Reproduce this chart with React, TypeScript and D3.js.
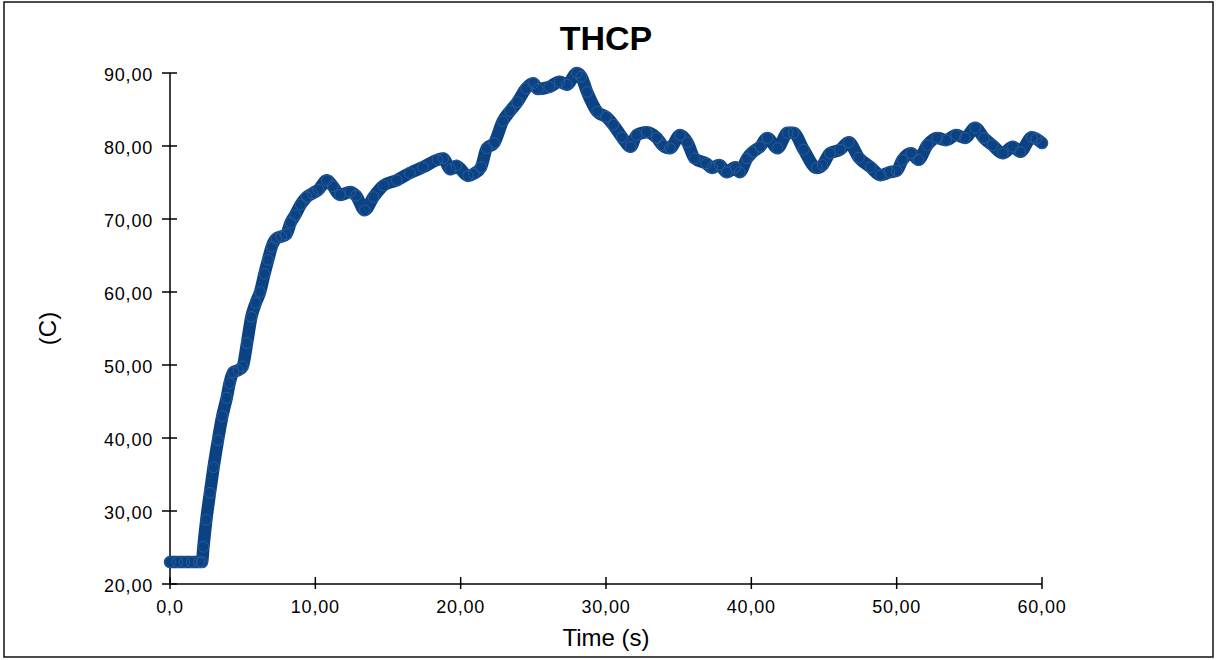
import React, { useEffect, useRef } from "react";
import * as d3 from "d3";

// time (s) and THCP temperature (C)
const times = [
  0, 0.5, 1.0, 1.5, 2.0, 2.2, 2.3, 2.5, 2.75, 3.0, 3.3, 3.6, 3.9, 4.1, 4.35, 4.7, 5.0, 5.3, 5.6, 5.9,
  6.2, 6.5, 6.75, 7.0, 7.3, 7.65, 8.0, 8.3, 8.6, 9.0, 9.4, 9.8, 10.2, 10.8, 11.2, 11.7, 12.4, 12.8,
  13.4, 14.0, 14.7, 15.6, 16.5, 17.4, 18.4, 18.8, 19.3, 19.7, 20.5, 20.9, 21.4, 21.8, 22.3, 22.9,
  23.4, 23.9, 24.5, 25.0, 25.3, 26.1, 26.8, 27.3, 28.0, 28.3, 28.7, 29.4, 30.0, 30.5, 31.1, 31.7,
  32.1, 32.8, 33.5, 33.9, 34.4, 35.1, 35.6, 36.1, 36.9, 37.3, 37.8, 38.3, 38.9, 39.2, 39.7, 40.1,
  40.6, 41.1, 41.8, 42.5, 42.9, 43.6, 44.5, 44.9, 45.4, 46.1, 46.7, 47.4, 48.2, 48.9, 49.5, 50.0,
  50.4, 51.0, 51.5, 52.1, 52.8, 53.4, 54.1, 54.7, 55.4, 56.0, 56.6, 57.3, 58.0, 58.5, 59.3, 59.6, 60.0,
];
const temps = [
  23, 23, 23, 23, 23, 23, 25.1, 28.8, 32.5, 36, 39.7, 43, 45.5, 47.5, 49, 49.3, 49.8, 53, 56.6, 58.5,
  60, 62.5, 64.4, 66.2, 67.3, 67.6, 67.9, 69.5, 70.5, 72, 73, 73.5, 74, 75.3, 74.5, 73.3, 73.7, 73.2,
  71.2, 73, 74.6, 75.3, 76.3, 77.1, 78.1, 78.3, 76.8, 77.3, 75.9, 76.2, 77.1, 79.7, 80.4, 83.4,
  84.8, 86, 87.9, 88.6, 87.8, 88.1, 88.8, 88.4, 90, 89.5, 87.4, 84.7, 84, 82.9, 81.2, 79.9,
  81.5, 81.9, 81.1, 80.1, 79.7, 81.5, 80.5, 78.3, 77.6, 77, 77.4, 76.4, 77.1, 76.4, 78.3, 79.2,
  79.9, 81.1, 79.7, 81.8, 81.8, 79.5, 77, 77.4, 79, 79.5, 80.5, 78.4, 77.1, 76, 76.4, 76.6,
  78.1, 79, 78.1, 80.1, 81.1, 80.8, 81.5, 81.1, 82.5, 81.1, 80.1, 79, 79.9, 79.2, 81.2, 81, 80.4,
];

const xTicks = [0, 10, 20, 30, 40, 50, 60];
const yTicks = [20, 30, 40, 50, 60, 70, 80, 90];

const width = 1216;
const height = 660;
const margin = { top: 73, right: 174, bottom: 76, left: 170 };
const lineColor = "#0b4283";
const font = "'Liberation Sans', Arial, sans-serif";

const fmt = (v: number) => (v === 0 ? "0,0" : v.toFixed(2).replace(".", ","));

const App = () => {
  const ref = useRef<SVGSVGElement>(null);

  useEffect(() => {
    const svg = d3.select(ref.current);
    svg.selectAll("*").remove();

    const data = times.map((t, i) => ({ t, v: temps[i] }));

    const x = d3.scaleLinear().domain([0, 60]).range([margin.left, width - margin.right]);
    const y = d3.scaleLinear().domain([20, 90]).range([height - margin.bottom, margin.top]);

    // outer frame
    svg.append("rect")
      .attr("x", 4).attr("y", 2)
      .attr("width", 1209).attr("height", 655)
      .attr("fill", "white")
      .attr("stroke", "#111")
      .attr("stroke-width", 1.5);

    // title
    svg.append("text")
      .attr("x", (x(0) + x(60)) / 2)
      .attr("y", 50)
      .attr("text-anchor", "middle")
      .style("font-family", font)
      .style("font-weight", "bold")
      .style("font-size", "34px")
      .text("THCP");

    // y axis (ticks cross the line)
    const yAxis = svg.append("g");
    yAxis.append("line")
      .attr("x1", x(0)).attr("x2", x(0))
      .attr("y1", y(90)).attr("y2", y(20))
      .attr("stroke", "black").attr("stroke-width", 1.5);
    yAxis.selectAll("line.tick")
      .data(yTicks)
      .join("line")
      .attr("class", "tick")
      .attr("x1", x(0) - 8).attr("x2", x(0) + 7)
      .attr("y1", (d) => y(d)).attr("y2", (d) => y(d))
      .attr("stroke", "black").attr("stroke-width", 1.5);
    yAxis.selectAll("text")
      .data(yTicks)
      .join("text")
      .attr("x", x(0) - 17)
      .attr("y", (d) => y(d) + 8)
      .attr("text-anchor", "end")
      .style("font-family", font)
      .style("font-size", "18px")
      .style("letter-spacing", "0.8px")
      .text((d) => fmt(d));

    // x axis
    const xAxis = svg.append("g");
    xAxis.append("line")
      .attr("x1", x(0)).attr("x2", x(60))
      .attr("y1", y(20)).attr("y2", y(20))
      .attr("stroke", "black").attr("stroke-width", 1.5);
    xAxis.selectAll("line.tick")
      .data(xTicks)
      .join("line")
      .attr("class", "tick")
      .attr("x1", (d) => x(d)).attr("x2", (d) => x(d))
      .attr("y1", y(20) - 7).attr("y2", y(20) + 5)
      .attr("stroke", "black").attr("stroke-width", 1.5);
    xAxis.selectAll("text")
      .data(xTicks)
      .join("text")
      .attr("x", (d) => x(d))
      .attr("y", y(20) + 29)
      .attr("text-anchor", "middle")
      .style("font-family", font)
      .style("font-size", "18px")
      .style("letter-spacing", "0.8px")
      .text((d) => fmt(d));

    // axis titles
    svg.append("text")
      .attr("x", (x(0) + x(60)) / 2)
      .attr("y", 646)
      .attr("text-anchor", "middle")
      .style("font-family", font)
      .style("font-size", "24px")
      .text("Time (s)");

    svg.append("text")
      .attr("transform", `translate(56, ${(y(20) + y(90)) / 2}) rotate(-90)`)
      .attr("text-anchor", "middle")
      .style("font-family", font)
      .style("font-size", "24px")
      .text("(C)");

    // the thick band of markers
    const line = d3.line<{ t: number; v: number }>()
      .x((d) => x(d.t))
      .y((d) => y(d.v))
      .curve(d3.curveMonotoneX);

    svg.append("path")
      .datum(data)
      .attr("d", line)
      .attr("fill", "none")
      .attr("stroke", lineColor)
      .attr("stroke-width", 12.5)
      .attr("stroke-linejoin", "round")
      .attr("stroke-linecap", "round");

    svg.append("g")
      .selectAll("circle")
      .data(data)
      .join("circle")
      .attr("cx", (d) => x(d.t))
      .attr("cy", (d) => y(d.v))
      .attr("r", 5.4)
      .attr("fill", "none")
      .attr("stroke", "#2a5c9a")
      .attr("stroke-width", 1);
  }, []);

  return (
    <svg
      ref={ref}
      width={width}
      height={height}
      style={{ position: "absolute", left: 0, top: 0, background: "white" }}
    />
  );
};

export default App;
